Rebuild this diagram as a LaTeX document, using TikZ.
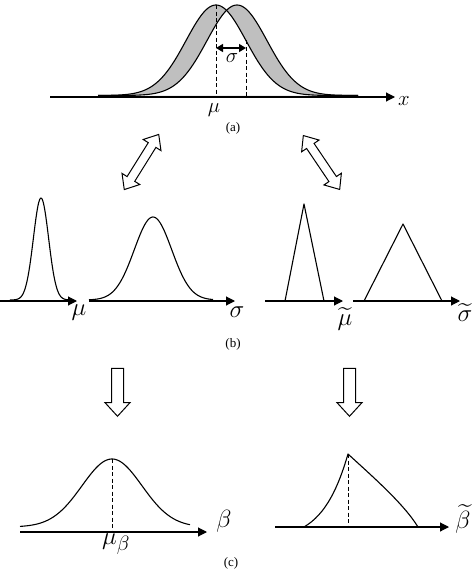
\documentclass[tikz,border=0pt]{standalone}
\usepackage{amsmath}
\usepackage{fontspec}
\setmainfont{Liberation Serif}
\usetikzlibrary{arrows.meta, positioning, shapes.arrows}

\begin{document}
\begin{tikzpicture}[x=1pt, y=-1pt,
  axis/.style={line width=1.1pt, -{Triangle[length=9pt, width=9pt]}},
  curve/.style={line width=1.1pt, line join=round},
  guide/.style={line width=0.9pt, dash pattern=on 4pt off 2.5pt},
  lab/.style={inner sep=0pt, font=\Huge},
  panel/.style={inner sep=0pt, font=\fontsize{13}{15}\selectfont},
  twoway/.style={double arrow, draw, line width=1pt, inner sep=4pt, double arrow head extend=6pt, double arrow tip angle=80, minimum height=65pt},
  oneway/.style={single arrow, draw, line width=1pt, inner sep=5.5pt, single arrow head extend=6.5pt, single arrow tip angle=85, minimum height=48pt}]
  \useasboundingbox (0,0) rectangle (474,570);

  % (a) two shifted densities
  \fill[black!25] plot[domain=98:358, samples=160] (\x, {95.5-90.5*max(exp(-0.5*((\x-216)/30)^2), exp(-0.5*((\x-237)/30)^2))}) -- cycle;
  \fill[white] plot[domain=98:358, samples=160] (\x, {95.5-90.5*min(exp(-0.5*((\x-216)/30)^2), exp(-0.5*((\x-237)/30)^2))}) -- cycle;
  \draw[curve] plot[domain=98:358, samples=160] (\x, {95.5-90.5*exp(-0.5*((\x-216)/30)^2)});
  \draw[curve] plot[domain=98:358, samples=160] (\x, {95.5-90.5*exp(-0.5*((\x-237)/30)^2)});

  \coordinate (a0) at (50,97);
  \coordinate (a1) at (395,97);
  \draw[axis] (a0) -- (a1);
  \node[lab, font=\huge] (xlab) at (404,101) {$x$};

  \coordinate (muTop) at (216,5);
  \coordinate (muBase) at (216,97);
  \coordinate (sdTop) at (246,40);
  \coordinate (sdBase) at (246,97);
  \draw[guide] (muTop) -- (muBase);
  \draw[guide] (sdTop) -- (sdBase);
  \coordinate (sgL) at (216,48);
  \coordinate (sgR) at (246,48);
  \draw[line width=1.3pt, {Triangle[length=7pt, width=8pt]}-{Triangle[length=7pt, width=8pt]}] (sgL) -- (sgR);
  \node[lab, font=\huge] (sglab) at (232,58) {$\sigma$};
  \node[lab, font=\huge] (mulab) at (214,110) {$\mu$};
  \node[panel] (capA) at (233,128) {(a)};

  % hollow links
  \node[twoway, rotate=58] (linkL) at (141.5,162) {};
  \node[twoway, rotate=-56] (linkR) at (321.5,162.5) {};

  % (b) densities of the parameters
  \draw[curve] plot[domain=10:70, samples=80] (\x, {300-102*exp(-0.5*((\x-41)/7.6)^2)});
  \coordinate (b1s) at (0,301);
  \coordinate (b1e) at (77,301);
  \draw[axis] (b1s) -- (b1e);
  \node[lab] (mub) at (79,313) {$\mu$};

  \draw[curve] plot[domain=89:213, samples=100] (\x, {300-83*exp(-0.5*((\x-153)/18.7)^2)});
  \coordinate (b2s) at (89,301);
  \coordinate (b2e) at (235,301);
  \draw[axis] (b2s) -- (b2e);
  \node[lab] (sgb) at (237,312) {$\sigma$};

  \coordinate (b3s) at (265,301);
  \coordinate (b3e) at (343,301);
  \draw[axis] (b3s) -- (b3e);
  \draw[curve] (285,301) -- (304,204) -- (324,301);
  \node[lab] (mutb) at (345,319) {$\widetilde{\mu}$};

  \coordinate (b4s) at (353,301);
  \coordinate (b4e) at (460,301);
  \draw[axis] (b4s) -- (b4e);
  \draw[curve] (364,301) -- (403,224) -- (442,301);
  \node[lab] (sgtb) at (465,313) {$\widetilde{\sigma}$};
  \node[panel] (capB) at (233,344) {(b)};

  % down arrows
  \node[oneway, rotate=-90] (downL) at (117.5,389) {};
  \node[oneway, rotate=-90] (downR) at (349.5,389) {};

  % (c) resulting densities
  \draw[curve] plot[domain=20:190, samples=120] (\x, {527-68*exp(-0.5*((\x-112)/30)^2)});
  \coordinate (c1s) at (20,532);
  \coordinate (c1e) at (207,532);
  \draw[axis] (c1s) -- (c1e);
  \coordinate (mbTop) at (112,459);
  \coordinate (mbBase) at (112,532);
  \draw[guide] (mbTop) -- (mbBase);
  \node[lab] (betalab) at (224,521) {$\beta$};
  \node[lab] (mubeta) at (116,544) {$\mu_\beta$};

  \coordinate (c2s) at (275,527);
  \coordinate (c2e) at (449,527);
  \draw[axis] (c2s) -- (c2e);
  \coordinate (apex) at (348,454);
  \coordinate (apexBase) at (348,527);
  \draw[curve] (304,527) .. controls (326,514) and (338,488) .. (apex) .. controls (372,476) and (404,504) .. (418,527);
  \draw[guide] (apex) -- (apexBase);
  \node[lab] (betat) at (463,519) {$\widetilde{\beta}$};
  \node[panel] (capC) at (231,563) {(c)};
\end{tikzpicture}
\end{document}
